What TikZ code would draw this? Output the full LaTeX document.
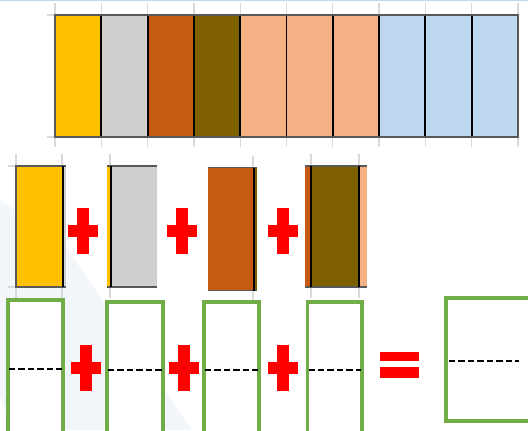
\documentclass[tikz,border=0pt]{standalone}
\usepackage{tikz}

\definecolor{barYellow}{HTML}{FFC000}
\definecolor{barGrey}{HTML}{D0CECE}
\definecolor{barOrange}{HTML}{C55A11}
\definecolor{barOlive}{HTML}{7F6000}
\definecolor{barSalmon}{HTML}{F4B183}
\definecolor{barBlue}{HTML}{BDD7EE}
\definecolor{ansGreen}{HTML}{70AD47}
\definecolor{bgShade}{HTML}{F2F5FA}

% red plus sign centred at #1
\newcommand{\plussign}[1]{%
  \fill[red] (#1) ++(-15,-6) rectangle ++(30,12);
  \fill[red] (#1) ++(-6,-23) rectangle ++(12,46);
}

\begin{document}
\begin{tikzpicture}[
  x=0.02cm, y=-0.02cm,
  tick/.style={draw=black!15, line width=0.7pt},
  piece/.style={draw=black!65, line width=1.1pt},
  cut/.style={draw=black, line width=1.1pt},
  answer/.style={draw=ansGreen, fill=white, line width=2pt},
  blank/.style={draw=black, line width=1.3pt, dash pattern=on 3.6pt off 1.8pt}
]

\useasboundingbox (0,0) rectangle (528,430);
\clip (0,0) rectangle (528,430);

% faint background
\fill[bgShade] (0,200) -- (63,243) -- (192,430) -- (12,430) -- (0,395) -- cycle;
\draw[barBlue, line width=1pt] (0,0.5) -- (528,0.5);

% whole bar
\foreach \c [count=\i from 0] in {barYellow,barGrey,barOrange,barOlive,barSalmon,barSalmon,barSalmon,barBlue,barBlue,barBlue}
  \fill[\c] ({55+\i*46.3},15) rectangle ({55+(\i+1)*46.3},137);
\foreach \i in {0,...,10}
  \draw[tick] ({55+\i*46.3},3) -- ({55+\i*46.3},147);
\draw[tick] (47,15) -- (55,15);
\draw[tick] (47,137) -- (55,137);
\foreach \i in {1,...,9}
  \draw[cut] ({55+\i*46.3},15) -- ({55+\i*46.3},137);
\draw[piece] (55,15) rectangle (518,137);

% pieces
\draw[tick] (16,154) -- (16,298);
\draw[tick] (62,154) -- (62,298);
\draw[tick] (8,166) -- (16,166);
\draw[tick] (8,287) -- (16,287);
\fill[barYellow] (16,166) rectangle (63,287);
\fill[barGrey] (63,166) rectangle (65.5,287);
\draw[piece] (65.5,166) -- (16,166) -- (16,287) -- (65.5,287);
\draw[cut] (63,166) -- (63,287);

\draw[tick] (110,154) -- (110,298);
\fill[barYellow] (107,166) rectangle (111,287);
\fill[barGrey] (111,166) rectangle (157,287);
\draw[piece] (107,166) -- (157,166);
\draw[piece] (107,287) -- (157,287);
\draw[cut] (111,166) -- (111,287);

\draw[tick] (253,156) -- (253,300);
\fill[barOrange] (208,167.5) rectangle (254,290.5);
\fill[barOlive] (254,167.5) rectangle (257,290.5);
\draw[piece] (208,167.5) -- (257,167.5);
\draw[piece] (208,290.5) -- (257,290.5);
\draw[cut] (254,167.5) -- (254,290.5);

\draw[tick] (311,154) -- (311,298);
\draw[tick] (359,154) -- (359,298);
\fill[barOrange] (305,166) rectangle (311,287);
\fill[barOlive] (311,166) rectangle (359,287);
\fill[barSalmon] (359,166) rectangle (367,287);
\draw[piece] (305,166) -- (367,166);
\draw[piece] (305,287) -- (367,287);
\draw[cut] (311,166) -- (311,287);
\draw[cut] (359,166) -- (359,287);

\plussign{83,231}
\plussign{182,231}
\plussign{283,231}

% answer boxes
\draw[answer] (8,300) rectangle (63,440);
\draw[answer] (107,302) rectangle (163,440);
\draw[answer] (204,302) rectangle (259,440);
\draw[answer] (307.5,302) rectangle (362,440);
\draw[answer] (446,298) rectangle (540,421);

\draw[blank] (9,368.7) -- (62,368.7);
\draw[blank] (108,369.7) -- (162,369.7);
\draw[blank] (205,369.7) -- (258,369.7);
\draw[blank] (308.5,369.7) -- (361,369.7);
\draw[blank] (449,361.3) -- (519,361.3);

\plussign{85.5,368}
\plussign{184,368}
\plussign{283,368}

% equals sign
\fill[red] (380,352) rectangle (419.3,361);
\fill[red] (380,367.3) rectangle (419.3,377.7);

\end{tikzpicture}
\end{document}
